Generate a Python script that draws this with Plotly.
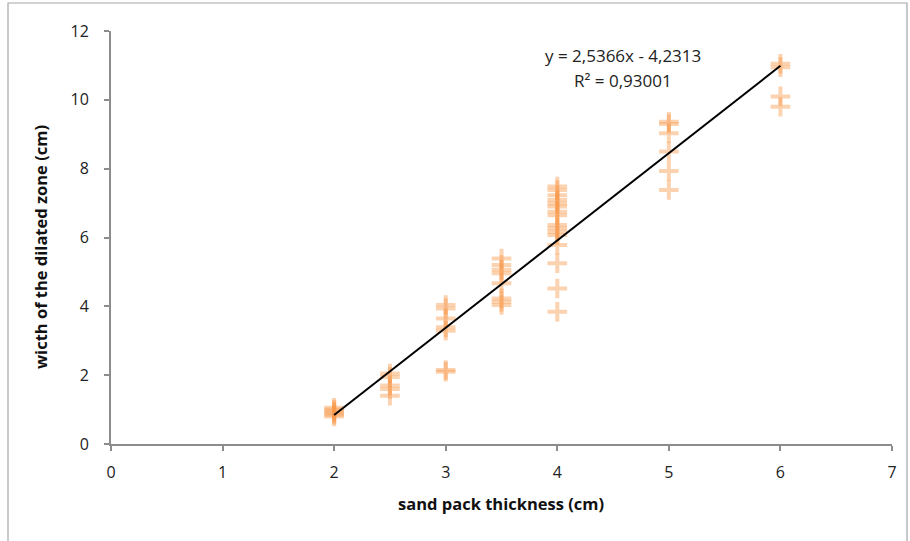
import plotly.graph_objects as go

x_vals = [2, 2, 2, 2, 2, 2,
          2.5, 2.5, 2.5, 2.5, 2.5,
          3, 3, 3, 3, 3, 3, 3,
          3.5, 3.5, 3.5, 3.5, 3.5, 3.5, 3.5, 3.5,
          4, 4, 4, 4, 4, 4, 4, 4, 4, 4, 4, 4, 4, 4, 4, 4,
          5, 5, 5, 5, 5, 5,
          6, 6, 6, 6]
y_vals = [0.8, 0.85, 0.9, 0.95, 1.0, 1.05,
          2.05, 1.95, 1.7, 1.6, 1.4,
          4.04, 3.94, 3.65, 3.39, 3.29, 2.15, 2.1,
          5.39, 5.2, 5.06, 4.96, 4.67, 4.23, 4.13, 4.04,
          7.48, 7.38, 7.23, 7.09, 6.99, 6.9, 6.75, 6.65, 6.36, 6.27, 6.17, 6.07, 5.78, 5.25, 4.52, 3.84,
          9.36, 9.3, 9.03, 8.5, 7.93, 7.38,
          11.05, 10.95, 10.1, 9.8]

slope = 2.5366
intercept = -4.2313
trend_x = [2, 6]
trend_y = [slope * v + intercept for v in trend_x]

x_ticks = [0, 1, 2, 3, 4, 5, 6, 7]
y_ticks = [0, 2, 4, 6, 8, 10, 12]

FONT = "Open Sans"

fig = go.Figure()
fig.add_trace(go.Scatter(
    x=x_vals, y=y_vals, mode="markers",
    marker=dict(symbol="cross-thin", size=14,
                line=dict(width=4, color="rgba(247,150,70,0.42)")),
    showlegend=False, hoverinfo="x+y"))
fig.add_trace(go.Scatter(
    x=trend_x, y=trend_y, mode="lines",
    line=dict(color="black", width=2), showlegend=False))

axis_common = dict(showgrid=False, zeroline=False, showline=True,
                   linecolor="#8c8c8c", linewidth=2, ticks="outside",
                   ticklen=5, tickwidth=1.5, tickcolor="#8c8c8c",
                   tickfont=dict(family=FONT, size=16, color="#222"))

fig.update_xaxes(range=[0, 7], tickvals=x_ticks, ticklabelstandoff=8, **axis_common)
fig.update_yaxes(range=[0, 12], tickvals=y_ticks, ticklabelstandoff=12, **axis_common)

def px_x(p):
    return (p - 111) / 781

def px_y(p):
    return (444 - p) / 413

def note(xp, yp, text, size, angle=0, bold=False, color="#222"):
    fig.add_annotation(x=px_x(xp), y=px_y(yp), xref="paper", yref="paper",
                       xanchor="center", yanchor="middle",
                       text=f"<b>{text}</b>" if bold else text, showarrow=False,
                       textangle=angle,
                       font=dict(family=FONT, size=size, color=color))

note(501, 503, "sand pack thickness (cm)", 16.5, bold=True, color="#111")
note(40, 247, "wicth of the dilated zone (cm)", 16.5, angle=-90, bold=True, color="#111")
note(623, 55, "y = 2,5366x - 4,2313", 17)
note(623, 80, "R² = 0,93001", 17)

fig.add_shape(type="rect", xref="paper", yref="paper",
              x0=px_x(8), x1=px_x(907), y0=px_y(560), y1=px_y(3),
              line=dict(color="#a6a6a6", width=1.2), layer="below")

fig.update_layout(width=910, height=541, plot_bgcolor="white", paper_bgcolor="white",
                  margin=dict(l=111, r=18, t=31, b=97))
fig.write_html("out.html")
